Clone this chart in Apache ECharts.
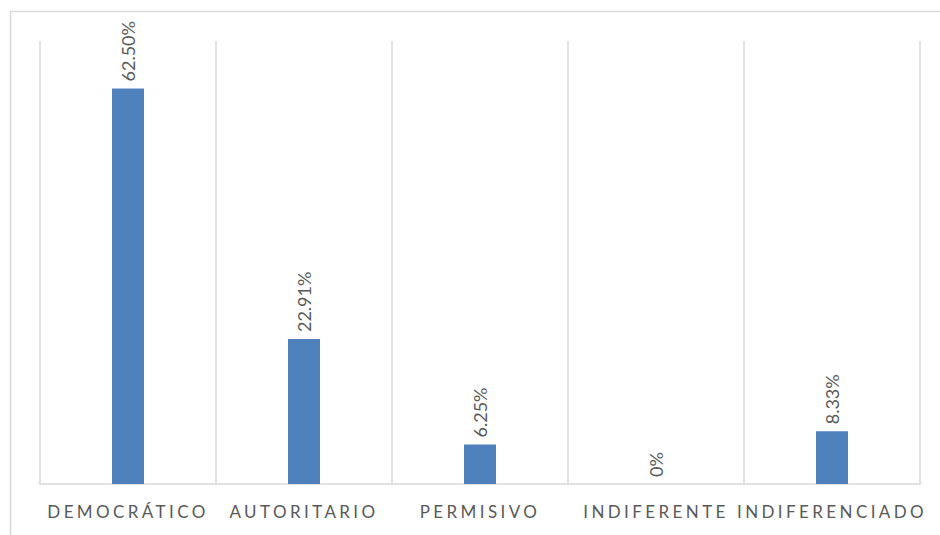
<!DOCTYPE html>
<html>
<head>
<meta charset="utf-8">
<script src="https://cdn.jsdelivr.net/npm/echarts@6/dist/echarts.min.js"></script>
<style>
html,body{margin:0;padding:0;background:#fff;}
#chart{width:940px;height:535px;}
</style>
</head>
<body>
<div id="chart"></div>
<script>
var categories = ['DEMOCRÁTICO', 'AUTORITARIO', 'PERMISIVO', 'INDIFERENTE', 'INDIFERENCIADO'];
var values = [62.50, 22.91, 6.25, 0, 8.33];
var valueLabels = ['62.50%', '22.91%', '6.25%', '0%', '8.33%'];

var chart = echarts.init(document.getElementById('chart'), null, {renderer: 'svg'});
chart.setOption({
  animation: false,
  backgroundColor: '#ffffff',
  graphic: [{
    type: 'rect',
    shape: {x: 10.5, y: 11.5, width: 940, height: 540},
    style: {fill: 'none', stroke: '#d9d9d9', lineWidth: 1.5},
    silent: true
  }],
  grid: {left: 40, right: 20, top: 41, bottom: 51, containLabel: false},
  xAxis: {
    type: 'category',
    data: categories,
    boundaryGap: true,
    axisLine: {show: true, lineStyle: {color: '#d9d9d9', width: 1.5}},
    axisTick: {show: false},
    splitLine: {show: true, interval: 0, lineStyle: {color: '#d9d9d9', width: 1.5}},
    axisLabel: {
      interval: 0,
      margin: 19,
      color: '#595959',
      fontSize: 17,
      fontFamily: 'Lato, "Open Sans", sans-serif'
    }
  },
  yAxis: {
    type: 'value',
    min: 0,
    max: 70,
    show: false,
    splitLine: {show: false}
  },
  series: [{
    type: 'bar',
    data: values,
    barWidth: 32,
    itemStyle: {color: '#4f81bd'},
    label: {
      show: true,
      position: 'top',
      rotate: 90,
      align: 'left',
      verticalAlign: 'middle',
      distance: 7,
      color: '#595959',
      fontSize: 18,
      fontFamily: 'Lato, "Open Sans", sans-serif',
      formatter: function (p) { return valueLabels[p.dataIndex]; }
    }
  }]
});

function spaceLabels() {
  var texts = document.querySelectorAll('#chart text');
  texts.forEach(function (t) {
    if (categories.indexOf(t.textContent) >= 0) {
      t.style.letterSpacing = '3.4px';
    }
  });
}
spaceLabels();
chart.on('finished', spaceLabels);
</script>
</body>
</html>
